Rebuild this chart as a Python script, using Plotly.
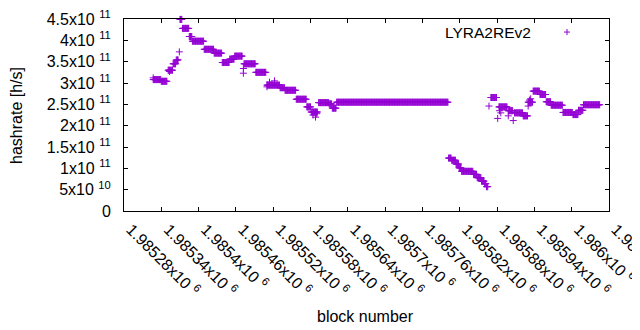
import numpy as np
import plotly.graph_objects as go

# Constant-rate runs of the hashrate estimate: first block, last block, hashrate [h/s]
seg_start = [1985327, 1985340, 1985351, 1985359, 1985364, 1985370, 1985374, 1985385,
             1985390, 1985409, 1985425, 1985438, 1985450, 1985458, 1985473, 1985492,
             1985510, 1985531, 1985539, 1985557, 1985574, 1985581, 1985593, 1985610,
             1985615, 1985622, 1985802, 1985807, 1985814, 1985819, 1985823, 1985842,
             1985848, 1985855, 1985860, 1985863, 1985870, 1985883, 1985898, 1985908,
             1985922, 1985930, 1985938, 1985949, 1985959, 1985967, 1985986, 1986002,
             1986011, 1986019]
seg_end = [1985339, 1985349, 1985358, 1985363, 1985367, 1985373, 1985384, 1985389,
           1985408, 1985424, 1985437, 1985449, 1985457, 1985470, 1985491, 1985508,
           1985530, 1985538, 1985556, 1985573, 1985580, 1985591, 1985609, 1985614,
           1985621, 1985801, 1985806, 1985813, 1985818, 1985822, 1985841, 1985847,
           1985854, 1985859, 1985862, 1985865, 1985879, 1985896, 1985905, 1985921,
           1985929, 1985937, 1985948, 1985958, 1985966, 1985985, 1986001, 1986010,
           1986018, 1986045]
seg_value = [3.08e11, 3.04e11, 3.30e11, 3.45e11, 3.54e11, 4.49e11, 4.28e11, 4.09e11,
             3.98e11, 3.79e11, 3.70e11, 3.48e11, 3.56e11, 3.63e11, 3.45e11, 3.25e11,
             2.95e11, 2.89e11, 2.83e11, 2.62e11, 2.44e11, 2.32e11, 2.54e11, 2.51e11,
             2.41e11, 2.55e11, 1.24e11, 1.19e11, 1.10e11, 1.01e11, 9.3e10, 8.6e10,
             7.8e10, 7.0e10, 6.4e10, 5.7e10, 2.66e11, 2.44e11, 2.35e11, 2.30e11,
             2.23e11, 2.55e11, 2.81e11, 2.73e11, 2.56e11, 2.48e11, 2.31e11, 2.26e11,
             2.36e11, 2.49e11]

# Isolated samples
pt_block = [1985327, 1985353, 1985369, 1985472, 1985472, 1985510, 1985514, 1985522,
            1985584, 1985588, 1985590, 1985867, 1985881, 1985884, 1985886, 1985898,
            1985906, 1985930, 1985932, 1985934]
pt_value = [3.12e11, 3.27e11, 3.73e11, 3.34e11, 3.23e11, 2.91e11, 3.02e11, 3.05e11,
            2.25e11, 2.20e11, 2.28e11, 2.46e11, 2.17e11, 2.35e11, 2.30e11, 2.23e11,
            2.12e11, 2.46e11, 2.60e11, 2.63e11]

x_tick_vals = [1985280, 1985340, 1985400, 1985460, 1985520, 1985580, 1985640,
               1985700, 1985760, 1985820, 1985880, 1985940, 1986000, 1986060]
x_tick_text = ["1.98528x10 <sup>6</sup>", "1.98534x10 <sup>6</sup>", "1.9854x10 <sup>6</sup>",
               "1.98546x10 <sup>6</sup>", "1.98552x10 <sup>6</sup>", "1.98558x10 <sup>6</sup>",
               "1.98564x10 <sup>6</sup>", "1.9857x10 <sup>6</sup>", "1.98576x10 <sup>6</sup>",
               "1.98582x10 <sup>6</sup>", "1.98588x10 <sup>6</sup>", "1.98594x10 <sup>6</sup>",
               "1.986x10 <sup>6</sup>", "1.98606x10 <sup>6</sup>"]
y_tick_vals = [0, 5e10, 1e11, 1.5e11, 2e11, 2.5e11, 3e11, 3.5e11, 4e11, 4.5e11]
y_tick_text = ["0", "5x10 <sup>10</sup>", "1x10 <sup>11</sup>", "1.5x10 <sup>11</sup>",
               "2x10 <sup>11</sup>", "2.5x10 <sup>11</sup>", "3x10 <sup>11</sup>",
               "3.5x10 <sup>11</sup>", "4x10 <sup>11</sup>", "4.5x10 <sup>11</sup>"]

series_name = "LYRA2REv2"
color = "#9400D3"
font = "Liberation Sans, Arial, sans-serif"

blocks = np.concatenate([np.arange(s, e + 1) for s, e in zip(seg_start, seg_end)] + [np.array(pt_block)])
values = np.concatenate([np.full(e - s + 1, v) for s, e, v in zip(seg_start, seg_end, seg_value)] + [np.array(pt_value)])

fig = go.Figure()
fig.add_trace(go.Scatter(
    x=blocks, y=values, mode="markers", name=series_name, showlegend=False,
    cliponaxis=False,
    marker=dict(symbol="cross-thin", size=5, color=color, line=dict(color=color, width=1)),
))

axis_common = dict(showline=True, linecolor="black", linewidth=1, mirror="ticks",
                   ticks="inside", ticklen=4, tickcolor="black", tickwidth=1,
                   showgrid=False, zeroline=False, automargin=False,
                   ticklabeloverflow="allow",
                   tickfont=dict(family=font, size=16, color="black"))

fig.update_xaxes(range=[1985280, 1986060], tickmode="array", tickvals=x_tick_vals,
                 ticktext=x_tick_text, tickangle=45, ticklabelstandoff=2,
                 ticklabelshift=7, **axis_common)
fig.update_yaxes(range=[0, 4.5e11], tickmode="array", tickvals=y_tick_vals,
                 ticktext=y_tick_text, ticklabelstandoff=9, **axis_common)

# the page body adds an 8px offset, so the figure is 8px smaller and margins shifted
fig.update_layout(
    template="none",
    width=632, height=322,
    margin=dict(l=116, r=31, t=11, b=119, autoexpand=False),
    paper_bgcolor="white", plot_bgcolor="white",
    font=dict(family=font, size=16, color="black"),
    showlegend=False,
    annotations=[
        dict(text="hashrate [h/s]", xref="paper", yref="paper", x=-0.2227, y=0.5,
             textangle=-90, showarrow=False, xanchor="center", yanchor="middle",
             font=dict(family=font, size=16, color="black")),
        dict(text="block number", xref="paper", yref="paper", x=0.497, y=-0.547,
             showarrow=False, xanchor="center", yanchor="middle",
             font=dict(family=font, size=16, color="black")),
        dict(text=series_name, xref="paper", yref="paper", x=0.8433, y=0.932,
             showarrow=False, xanchor="right", yanchor="middle",
             font=dict(family=font, size=15.5, color="black")),
    ],
    shapes=[
        dict(type="line", xref="paper", yref="paper", x0=0.9072, x1=0.9196, y0=0.932, y1=0.932,
             line=dict(color=color, width=1)),
        dict(type="line", xref="paper", yref="paper", x0=0.9134, x1=0.9134, y0=0.916, y1=0.948,
             line=dict(color=color, width=1)),
    ],
)

fig.write_html("out.html")
